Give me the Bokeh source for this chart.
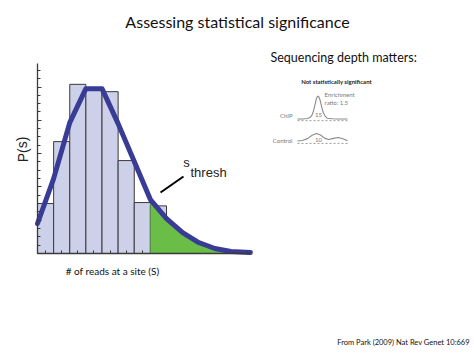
from bokeh.plotting import figure
from bokeh.models import Range1d, FixedTicker
from bokeh.core.properties import value
from bokeh.embed import file_html
from bokeh.resources import INLINE

# ---------------- data ----------------
bar_centers = [0.5, 1.5, 2.5, 3.5, 4.5, 5.5, 6.5, 7.5]
bar_heights = [1.50, 3.36, 5.08, 4.95, 4.86, 2.79, 1.53, 1.43]

curve_x = [0, 1, 2, 3, 4, 5, 6, 7, 8, 9, 10, 11, 12, 13.2]
curve_y = [0.90, 2.25, 3.93, 4.95, 4.95, 3.90, 2.76, 1.62, 1.05, 0.63, 0.33, 0.15, 0.06, 0.03]
thresh_x = 7

x_ticks = [0.5, 1.5, 2.5, 3.5, 4.5, 5.5, 6.5, 13.0]
y_major = [0, 1, 2, 3, 4, 5]
y_minor = [i * 0.25 for i in range(23)]

# inset (Park 2009): read density profiles
chip_x = [0, 1, 2, 2.5, 2.9, 3.2, 3.5, 3.8, 4.0, 4.2, 4.5, 4.8, 5.1, 5.5, 6.0, 7, 8, 9, 10]
chip_y = [0.02, 0.02, 0.04, 0.08, 0.18, 0.36, 0.62, 0.88, 0.97, 0.97, 0.82, 0.56, 0.32, 0.14, 0.05, 0.03, 0.02, 0.02, 0.02]
ctrl_x = [0, 1, 2, 3, 3.8, 4.6, 5.4, 6.2, 7.2, 8.2, 9.2, 10]
ctrl_y = [0.02, 0.04, 0.12, 0.27, 0.33, 0.27, 0.14, 0.08, 0.13, 0.17, 0.10, 0.03]
chip_reads = 15
ctrl_reads = 10

# ---------------- figure ----------------
W, H = 474, 355
PX_X, PX_Y = 16.125, 33.3   # pixels per data unit
ORIG_X, ORIG_Y = 37, 253    # page position of data origin

p = figure(width=W, height=H, output_backend="svg", toolbar_location=None,
           x_range=Range1d(-ORIG_X / PX_X, (W - ORIG_X) / PX_X),
           y_range=Range1d(-(H - ORIG_Y) / PX_Y, ORIG_Y / PX_Y),
           min_border=0, outline_line_color=None,
           background_fill_color="white", border_fill_color="white")
p.grid.visible = False

p.extra_x_ranges = {"page": Range1d(0, W), "inset": Range1d(-297 / 5, (W - 297) / 5)}
p.extra_y_ranges = {"page": Range1d(H, 0),
                    "chip": Range1d(-236 / 24, -236 / 24 + H / 24),
                    "ctrl": Range1d(-214 / 24, -214 / 24 + H / 24)}

# axes drawn at the data origin
p.xaxis.fixed_location = 0
p.yaxis.fixed_location = 0
p.xaxis.bounds = (0, 13.2)
p.yaxis.bounds = (0, 5.7)
p.xaxis.ticker = FixedTicker(ticks=x_ticks, minor_ticks=[])
p.yaxis.ticker = FixedTicker(ticks=y_major, minor_ticks=y_minor)
for ax in (p.xaxis, p.yaxis):
    ax.axis_line_color = "#3a3a3a"
    ax.axis_line_width = 1.3
    ax.major_tick_line_color = "#3a3a3a"
    ax.minor_tick_line_color = "#3a3a3a"
    ax.major_tick_in = 3
    ax.major_tick_out = 0
    ax.minor_tick_in = 3
    ax.minor_tick_out = 0
    ax.major_label_text_color = None
p.yaxis.major_tick_in = 4

# histogram
p.vbar(x=bar_centers, width=1, top=bar_heights, bottom=0,
       fill_color="#ccd0e8", line_color="#3a3a3a", line_width=1)

# tail above threshold
tx = [x for x in curve_x if x >= thresh_x]
ty = [y for x, y in zip(curve_x, curve_y) if x >= thresh_x]
p.varea(x=tx, y1=[0] * len(tx), y2=ty, fill_color="#6abd47")

# fitted curve
p.line(curve_x, curve_y, line_color="#393c96", line_width=5, line_join="round", line_cap="round")

# s_thresh pointer
p.segment(x0=[160], y0=[192], x1=[183], y1=[176], line_color="black", line_width=2,
          x_range_name="page", y_range_name="page")

def txt(x, y, s, size, font="Lato", color="#111111", align="left", style="normal", angle=0):
    p.text(x=[x], y=[y], text=[s], text_font=value(font), text_font_size=size,
           text_color=color, text_align=align, text_baseline="middle",
           text_font_style=style, angle=angle,
           x_range_name="page", y_range_name="page")

txt(237, 21, "Assessing statistical significance", "16px", align="center")
txt(270, 57, "Sequencing depth matters:", "12.5px")
txt(112, 270, "# of reads at a site (S)", "10px", align="center")
txt(22, 149, "P(s)", "14px", font="Liberation Sans", color="#222222", align="center", angle=1.5708)
txt(186, 162, "s", "13px", font="Liberation Sans", color="#222222", align="center")
txt(190, 172, "thresh", "13px", font="Liberation Sans", color="#222222")
txt(403, 342, "From Park (2009) Nat Rev Genet 10:669", "7.5px", align="center")

# inset
txt(336, 81, "Not statistically significant", "6px", color="#222222", align="center", style="bold")
txt(324, 94, "Enrichment", "6px", color="#777777")
txt(324, 102, f"ratio: {chip_reads / ctrl_reads:.1f}", "6px", color="#777777")
txt(292, 115, "ChIP", "6px", color="#777777", align="right")
txt(292, 140, "Control", "6px", color="#777777", align="right")

p.line(chip_x, chip_y, line_color="#8a8a8a", line_width=1.1, x_range_name="inset", y_range_name="chip")
p.line([0, 10], [-0.05, -0.05], line_color="#9a9a9a", line_width=1, line_dash="2 2",
       x_range_name="inset", y_range_name="chip")
p.text(x=[4.2], y=[0.2], text=[str(chip_reads)], text_font=value("Lato"), text_font_size="6px",
       text_color="#777777", text_align="center", text_baseline="middle",
       x_range_name="inset", y_range_name="chip")

p.line(ctrl_x, ctrl_y, line_color="#8a8a8a", line_width=1.1, x_range_name="inset", y_range_name="ctrl")
p.line([0, 10], [-0.08, -0.08], line_color="#9a9a9a", line_width=1, line_dash="2 2",
       x_range_name="inset", y_range_name="ctrl")
p.text(x=[4.2], y=[0.08], text=[str(ctrl_reads)], text_font=value("Lato"), text_font_size="6px",
       text_color="#777777", text_align="center", text_baseline="middle",
       x_range_name="inset", y_range_name="ctrl")

open("out.html", "w").write(file_html(p, INLINE))
